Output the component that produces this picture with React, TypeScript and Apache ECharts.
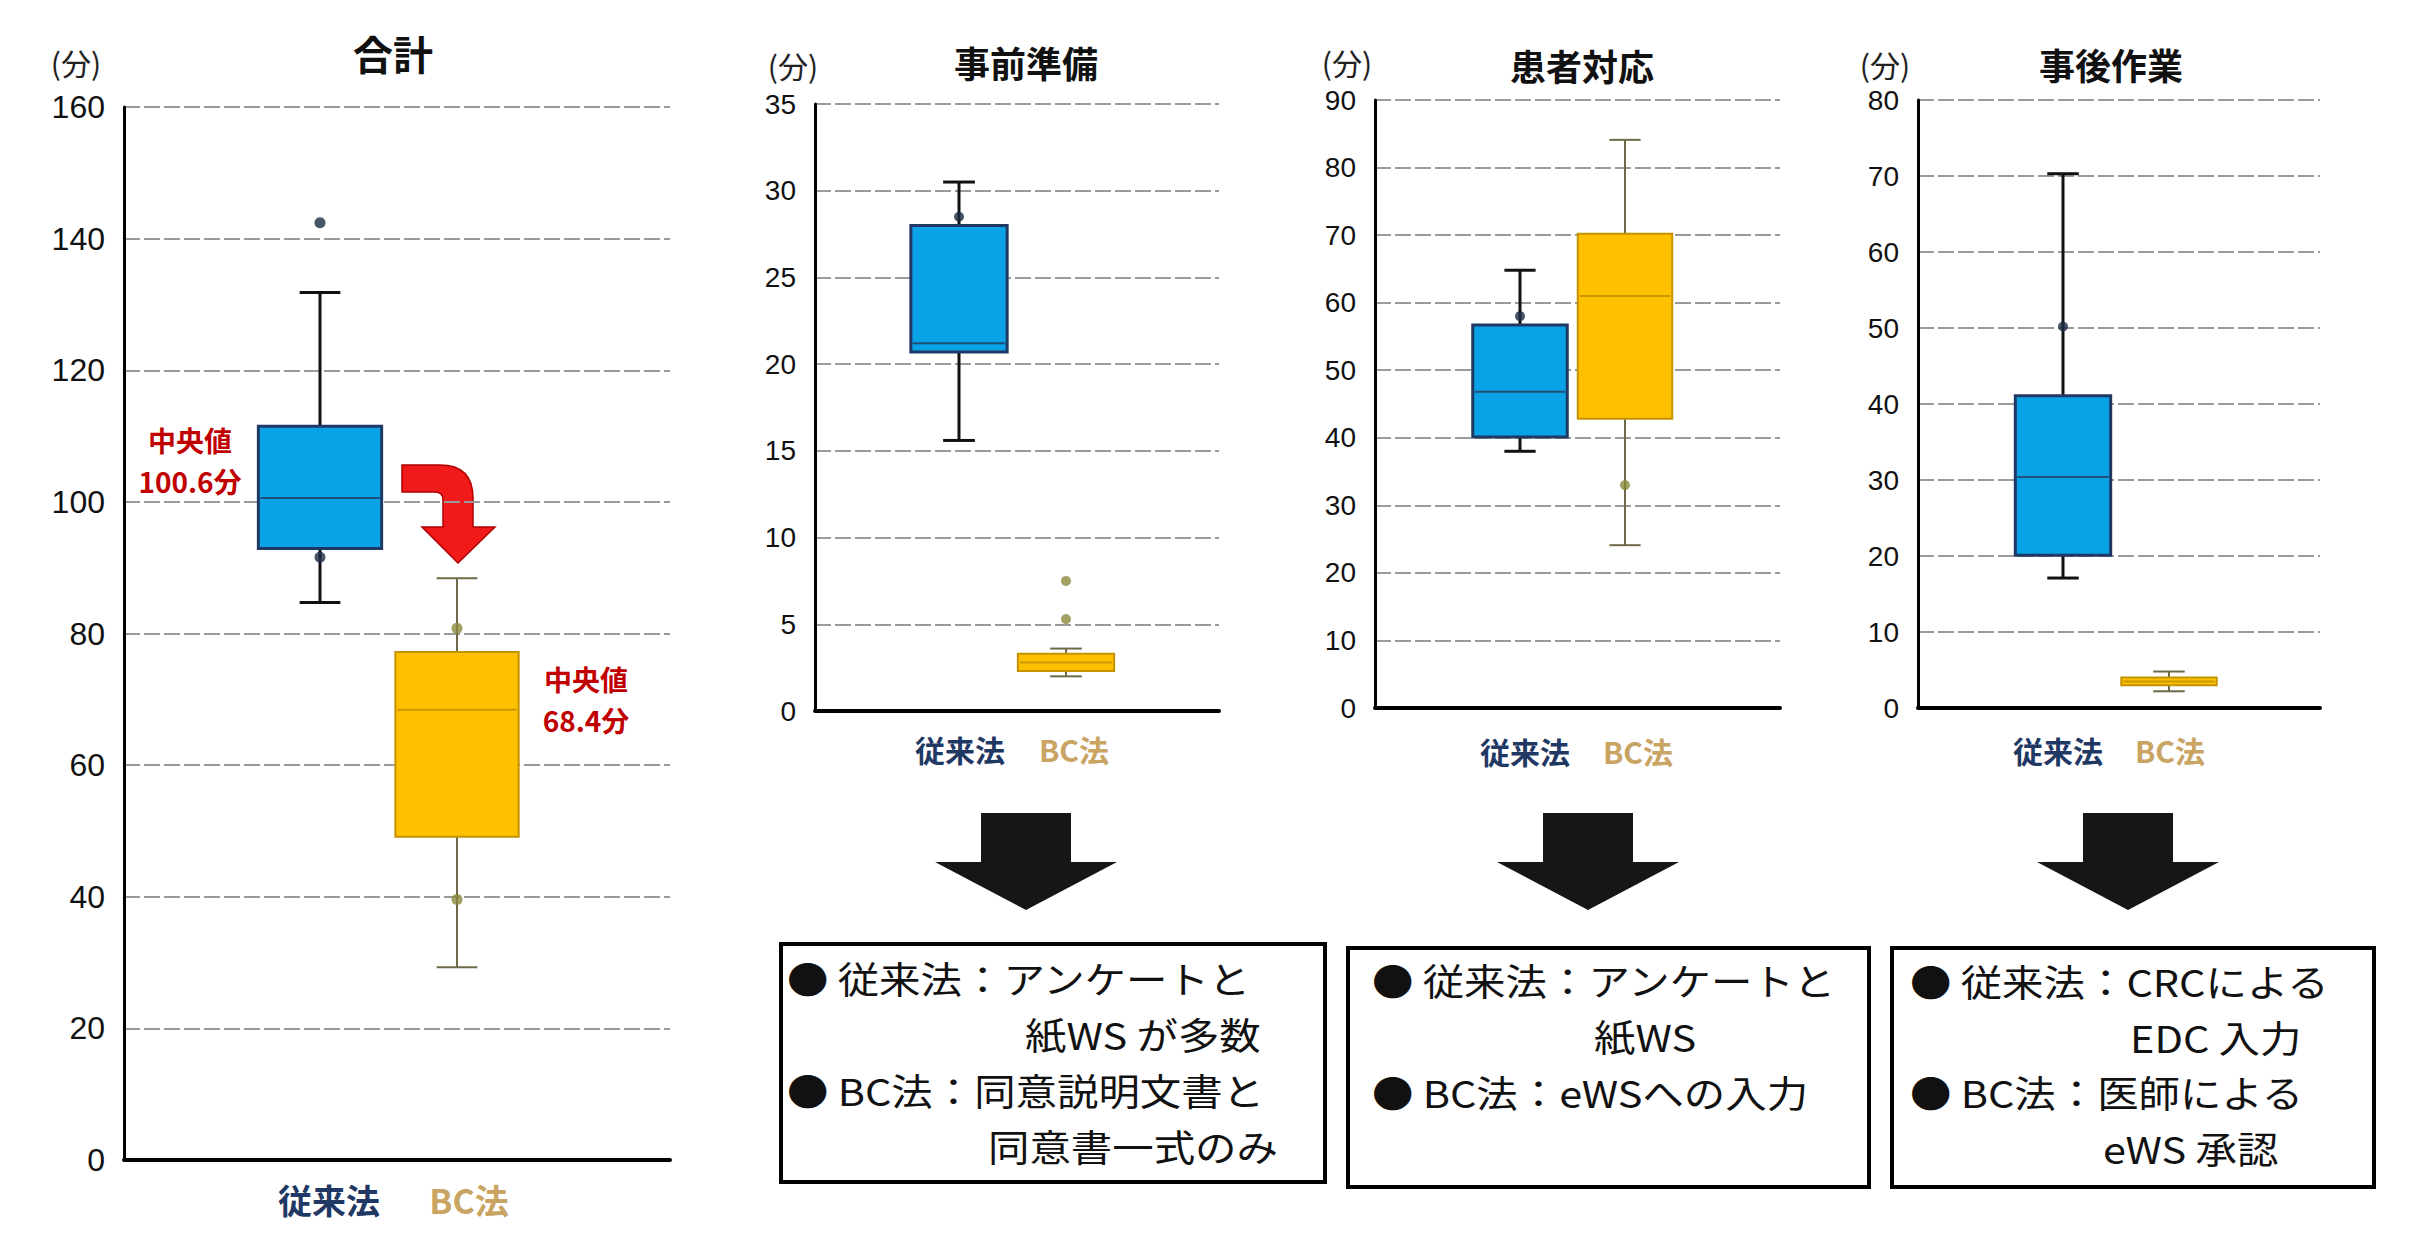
import React, { useEffect, useRef } from 'react';
import * as echarts from 'echarts';

// ---- data ----
const categories = ['従来法', 'BC法'];
const panelTitles = ['合計', '事前準備', '患者対応', '事後作業'];
const unitLabel = '(分)';

// five-number summaries: [min, Q1, median, Q3, max] (minutes)
const totalConventional = [84.7, 92.9, 100.6, 111.5, 131.8];
const totalBC = [29.3, 49.1, 68.4, 77.2, 88.4];
const prepConventional = [15.6, 20.7, 21.2, 28.0, 30.5];
const prepBC = [2.0, 2.3, 2.8, 3.3, 3.6];
const patientConventional = [38.0, 40.1, 46.8, 56.7, 64.8];
const patientBC = [24.1, 42.8, 61.0, 70.2, 84.1];
const afterConventional = [17.1, 20.1, 30.4, 41.1, 70.3];
const afterBC = [2.2, 3.0, 3.5, 4.0, 4.8];

// individual points shown beside the boxes
const totalPointsConventional = [142.4, 91.6];
const totalPointsBC = [80.8, 39.6];
const prepPointsConventional = [28.5];
const prepPointsBC = [5.3, 7.5];
const patientPointsConventional = [58.0];
const patientPointsBC = [33.0];
const afterPointsConventional = [50.2];
const afterPointsBC: number[] = [];

const axisMax = [160, 35, 90, 80];
const axisInterval = [20, 5, 10, 10];

const noteLines = [
  ['● 従来法：アンケートと', '紙WS が多数', '● BC法：同意説明文書と', '同意書一式のみ'],
  ['● 従来法：アンケートと', '紙WS', '● BC法：eWSへの入力'],
  ['● 従来法：CRCによる', 'EDC 入力', '● BC法：医師による', 'eWS 承認'],
];

const panelBoxes = [
  [totalConventional, totalBC],
  [prepConventional, prepBC],
  [patientConventional, patientBC],
  [afterConventional, afterBC],
];
const panelPoints = [
  [totalPointsConventional, totalPointsBC],
  [prepPointsConventional, prepPointsBC],
  [patientPointsConventional, patientPointsBC],
  [afterPointsConventional, afterPointsBC],
];

// ---- layout ----
const W = 2416;
const H = 1239;
const frameRects = [
  { left: 124, top: 107, width: 546, height: 1053 },
  { left: 815, top: 104, width: 404, height: 607 },
  { left: 1375, top: 100, width: 405, height: 608 },
  { left: 1918, top: 100, width: 402, height: 608 },
];
const plotSpans = [
  { left: 251.5, width: 274 },
  { left: 905.5, width: 214 },
  { left: 1467.5, width: 210 },
  { left: 2010, width: 212 },
];
const tickFont = [32, 28, 28, 28];
const catFont = [34, 30, 30, 30];
const catMargin = [22, 23, 28, 27];
// horizontal nudges of the category names: [left pad, right pad] per name
const catPad = [
  [[18, 0], [24, 0]],
  [[2, 0], [16, 0]],
  [[10, 0], [26, 0]],
  [[0, 10], [2, 0]],
];
const titlePos = [
  [393, 53, 40],
  [1026, 62, 36],
  [1582, 65, 36],
  [2111, 64, 36],
];
const unitPos = [
  [76, 62],
  [793, 65],
  [1347, 62],
  [1885, 64],
];
const medianLabelPos = [
  [190, 460],
  [586, 699],
];
const noteRects = [
  { x: 781, y: 944, w: 544, h: 238 },
  { x: 1348, y: 948, w: 521, h: 239 },
  { x: 1892, y: 948, w: 482, h: 239 },
];
const noteTextPos = [
  [[787, 978], [1025, 1034], [787, 1090], [988, 1146]],
  [[1372, 980], [1594, 1036], [1372, 1092]],
  [[1910, 981], [2130, 1037], [1910, 1092], [2103, 1148]],
];
const noteFont = 37;
const noteScaleX = 1.12;
const downArrowCenters = [1026, 1588, 2128];

const JP = "'Noto Sans CJK JP', 'Noto Sans', sans-serif";
const NUM = "'Liberation Sans', 'Noto Sans CJK JP', sans-serif";

const boxStyles = [
  { fill: '#0AA2E6', border: '#1F3864', borderWidth: 3, median: '#1F4E79', whisker: '#111111', whiskerWidth: 3, point: '#1C2A44' },
  { fill: '#FFC000', border: '#C49300', borderWidth: 2, median: '#C99700', whisker: '#6E6A48', whiskerWidth: 2, point: '#8A8A3C' },
];
const BOX_RATIO = 0.9;
const CAP_RATIO = 0.33;

// curved red arrow between the two boxes of the first panel
echarts.graphic.registerShape(
  'bendArrow',
  echarts.graphic.extendPath(
    'M0 0 L38 0 Q71 0 71 33 L71 62 L93 62 L56 98 L20 62 L41 62 L41 35 Q41 27 33 27 L0 27 Z',
    {}
  )
);

function renderBox(params: any, api: any) {
  const idx = api.value(0);
  const vMin = api.value(1);
  const vQ1 = api.value(2);
  const vMed = api.value(3);
  const vQ3 = api.value(4);
  const vMax = api.value(5);
  const cx = api.coord([idx, vMin])[0];
  const yMin = api.coord([idx, vMin])[1];
  const yQ1 = api.coord([idx, vQ1])[1];
  const yMed = api.coord([idx, vMed])[1];
  const yQ3 = api.coord([idx, vQ3])[1];
  const yMax = api.coord([idx, vMax])[1];
  const band = api.size([1, 0])[0];
  const w = band * BOX_RATIO;
  const cap = w * CAP_RATIO;
  const s = boxStyles[idx];
  const ws = { stroke: s.whisker, lineWidth: s.whiskerWidth };
  return {
    type: 'group',
    children: [
      { type: 'line', shape: { x1: cx, y1: yMax, x2: cx, y2: yQ3 }, style: ws },
      { type: 'line', shape: { x1: cx, y1: yQ1, x2: cx, y2: yMin }, style: ws },
      { type: 'line', shape: { x1: cx - cap / 2, y1: yMax, x2: cx + cap / 2, y2: yMax }, style: ws },
      { type: 'line', shape: { x1: cx - cap / 2, y1: yMin, x2: cx + cap / 2, y2: yMin }, style: ws },
      {
        type: 'rect',
        shape: { x: cx - w / 2, y: yQ3, width: w, height: Math.max(yQ1 - yQ3, 1) },
        style: { fill: s.fill, stroke: s.border, lineWidth: s.borderWidth },
      },
      {
        type: 'line',
        shape: { x1: cx - w / 2 + 2, y1: yMed, x2: cx + w / 2 - 2, y2: yMed },
        style: { stroke: s.median, lineWidth: 2 },
      },
    ],
  };
}

function buildOption() {
  const grid: any[] = [];
  const xAxis: any[] = [];
  const yAxis: any[] = [];
  const series: any[] = [];
  const graphic: any[] = [];

  panelTitles.forEach((title, i) => {
    const f = frameRects[i];
    const p = plotSpans[i];
    const frameIdx = 2 * i;
    const plotIdx = 2 * i + 1;
    grid.push({ left: f.left, top: f.top, width: f.width, height: f.height, containLabel: false, outerBoundsMode: 'none' });
    grid.push({ left: p.left, top: f.top, width: p.width, height: f.height, containLabel: false, outerBoundsMode: 'none' });

    xAxis.push({
      type: 'value',
      gridIndex: frameIdx,
      min: 0,
      max: 1,
      axisLine: { show: true, lineStyle: { color: '#000', width: 4 } },
      axisTick: { show: false },
      axisLabel: { show: false },
      splitLine: { show: false },
    });
    xAxis.push({
      type: 'category',
      gridIndex: plotIdx,
      data: categories,
      axisLine: { show: false },
      axisTick: { show: false },
      splitLine: { show: false },
      axisLabel: {
        margin: catMargin[i],
        formatter: (v: string, idx: number) => `{c${idx}|${v}}`,
        rich: {
          c0: {
            color: '#1F3864',
            fontSize: catFont[i],
            fontWeight: 'bold',
            fontFamily: JP,
            padding: [0, catPad[i][0][1], 0, catPad[i][0][0]],
          },
          c1: {
            color: '#C9A463',
            fontSize: catFont[i],
            fontWeight: 'bold',
            fontFamily: JP,
            padding: [0, catPad[i][1][1], 0, catPad[i][1][0]],
          },
        },
      },
    });

    yAxis.push({
      type: 'value',
      gridIndex: frameIdx,
      min: 0,
      max: axisMax[i],
      interval: axisInterval[i],
      axisLine: { show: true, lineStyle: { color: '#000', width: 3 } },
      axisTick: { show: false },
      axisLabel: { fontSize: tickFont[i], color: '#111', fontFamily: NUM, margin: 19 },
      splitLine: { show: true, lineStyle: { color: '#9a9a9a', width: 2, type: [16, 4] } },
    });
    yAxis.push({
      type: 'value',
      gridIndex: plotIdx,
      min: 0,
      max: axisMax[i],
      interval: axisInterval[i],
      show: false,
      splitLine: { show: false },
    });

    series.push({
      type: 'custom',
      name: title,
      xAxisIndex: plotIdx,
      yAxisIndex: plotIdx,
      renderItem: renderBox,
      encode: { x: 0, y: [1, 2, 3, 4, 5] },
      data: panelBoxes[i].map((b, k) => [k, ...b]),
      z: 3,
    });
    panelPoints[i].forEach((pts, k) => {
      series.push({
        type: 'scatter',
        xAxisIndex: plotIdx,
        yAxisIndex: plotIdx,
        symbol: 'circle',
        symbolSize: i === 0 ? 11 : 10,
        itemStyle: { color: boxStyles[k].point },
        data: pts.map((v) => [k, v]),
        z: 5,
      });
    });

    graphic.push({
      type: 'text',
      x: titlePos[i][0],
      y: titlePos[i][1],
      style: {
        text: title,
        fontSize: titlePos[i][2],
        fontWeight: 'bold',
        fontFamily: JP,
        fill: '#111',
        textAlign: 'center',
        textVerticalAlign: 'middle',
      },
    });
    graphic.push({
      type: 'text',
      x: unitPos[i][0],
      y: unitPos[i][1],
      style: {
        text: unitLabel,
        fontSize: 30,
        fontFamily: JP,
        fill: '#222',
        textAlign: 'center',
        textVerticalAlign: 'middle',
      },
    });
  });

  // median annotations for the total panel
  [totalConventional, totalBC].forEach((b, k) => {
    graphic.push({
      type: 'text',
      x: medianLabelPos[k][0],
      y: medianLabelPos[k][1],
      style: {
        text: `中央値\n${b[2].toFixed(1)}分`,
        fontSize: 28,
        fontWeight: 'bold',
        fontFamily: JP,
        fill: '#C00000',
        lineHeight: 41,
        textAlign: 'center',
        textVerticalAlign: 'middle',
      },
    });
  });

  graphic.push({
    type: 'bendArrow',
    x: 402,
    y: 465,
    style: { fill: '#F01A1A', stroke: '#B00000', lineWidth: 1.5 },
  });

  // black arrows pointing to the notes
  downArrowCenters.forEach((c) => {
    graphic.push({
      type: 'polygon',
      shape: {
        points: [
          [c - 45, 813],
          [c + 45, 813],
          [c + 45, 862],
          [c + 91, 862],
          [c, 910],
          [c - 91, 862],
          [c - 45, 862],
        ],
      },
      style: { fill: '#161616' },
    });
  });

  noteRects.forEach((r, k) => {
    graphic.push({
      type: 'rect',
      shape: { x: r.x, y: r.y, width: r.w, height: r.h },
      style: { fill: '#fff', stroke: '#000', lineWidth: 4 },
    });
    noteLines[k].forEach((line, j) => {
      graphic.push({
        type: 'text',
        x: noteTextPos[k][j][0],
        y: noteTextPos[k][j][1],
        scaleX: noteScaleX,
        style: {
          text: line,
          fontSize: noteFont,
          fontFamily: JP,
          fill: '#111',
          textAlign: 'left',
          textVerticalAlign: 'middle',
        },
      });
    });
  });

  return {
    animation: false,
    backgroundColor: '#ffffff',
    grid,
    xAxis,
    yAxis,
    series,
    graphic,
  };
}

export default function App() {
  const ref = useRef<HTMLDivElement | null>(null);
  useEffect(() => {
    document.body.style.margin = '0';
    if (!ref.current) return;
    const chart = echarts.init(ref.current, undefined, { renderer: 'svg' });
    chart.setOption(buildOption() as any);
    return () => {
      chart.dispose();
    };
  }, []);
  return (
    <div
      ref={ref}
      style={{ position: 'fixed', left: 0, top: 0, width: W, height: H, background: '#fff' }}
    />
  );
}
